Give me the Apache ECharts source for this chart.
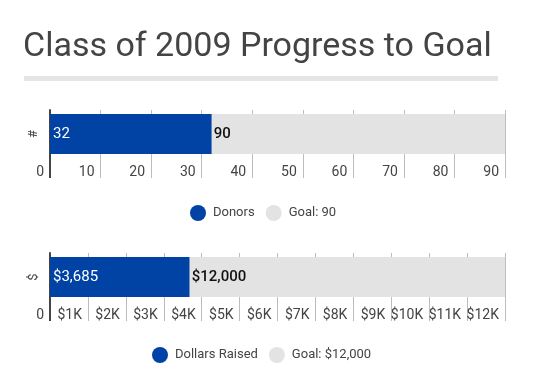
<!DOCTYPE html>
<html>
<head>
<meta charset="utf-8">
<script src="https://cdn.jsdelivr.net/npm/echarts@6/dist/echarts.min.js"></script>
<style>html,body{margin:0;padding:0;background:#fff}#c{width:541px;height:390px}</style>
</head>
<body>
<div id="c"></div>
<script>
var titleText = 'Class of 2009 Progress to Goal';
var donorCategory = ['#'];
var donorsRaised = [32];
var donorsGoal = [90];
var donorTicks = [0, 10, 20, 30, 40, 50, 60, 70, 80, 90];
var dollarCategory = ['$'];
var dollarsRaised = [3685];
var dollarsGoal = [12000];
var dollarTicks = ['0', '$1K', '$2K', '$3K', '$4K', '$5K', '$6K', '$7K', '$8K', '$9K', '$10K', '$11K', '$12K'];
var seriesNames = ['Donors', 'Dollars Raised'];

var BLUE = '#0043a4', GREY = '#e3e3e3', DARK = '#444', FONT = 'Roboto';
var fmtMoney = function (v) { return '$' + v.toLocaleString('en-US'); };
var goalName1 = 'Goal: ' + donorsGoal[0];
var goalName2 = 'Goal: ' + fmtMoney(dollarsGoal[0]);

function xAxisMain(gi, max, interval, labels) {
  return {
    type: 'value', gridIndex: gi, min: 0, max: max, interval: interval,
    axisLine: { show: false },
    axisTick: { show: true, length: 20, lineStyle: { color: '#bdbdbd', width: 1 } },
    splitLine: { show: true, lineStyle: { color: '#bdbdbd', width: 1 } },
    axisLabel: {
      show: true, align: 'right', padding: [0, 6, 0, 0], margin: 7, verticalAlign: 'top',
      color: DARK, fontSize: 14, fontFamily: FONT, showMinLabel: true, showMaxLabel: true,
      formatter: function (v) { return labels[Math.round(v / interval)]; }
    }
  };
}
function xAxisZero(gi, max) {
  return {
    type: 'value', gridIndex: gi, min: 0, max: max, position: 'bottom',
    axisLine: { show: false }, splitLine: { show: false }, axisLabel: { show: false },
    axisTick: { show: true, length: 20, customValues: [0], lineStyle: { color: DARK, width: 2 } }
  };
}
function yAxis(gi, cats) {
  return {
    type: 'category', gridIndex: gi, data: cats,
    axisLine: { show: true, lineStyle: { color: DARK, width: 2 } },
    axisTick: { show: false },
    axisLabel: { rotate: 90, margin: 10, color: DARK, fontSize: 13, fontFamily: FONT }
  };
}
function remainder(goal, got) { return goal.map(function (g, i) { return g - got[i]; }); }

var option = {
  animation: false,
  backgroundColor: '#fff',
  textStyle: { fontFamily: FONT },
  title: {
    text: titleText, left: 18, top: 25,
    textStyle: { fontFamily: FONT, fontSize: 34, fontWeight: 'normal', color: '#444' }
  },
  graphic: [{ type: 'rect', shape: { x: 24, y: 76, width: 474, height: 5 }, style: { fill: '#e5e5e5' } }],
  grid: [
    { left: 50, right: 36, top: 110, height: 48 },
    { left: 50, right: 36, top: 253, height: 48 }
  ],
  legend: [
    { data: [seriesNames[0], goalName1], left: 185, top: 200, icon: 'circle', itemWidth: 16, itemHeight: 16, itemGap: 11,
      textStyle: { color: DARK, fontSize: 13, fontFamily: FONT, padding: [0, 0, 0, 2] } },
    { data: [seriesNames[1], goalName2], left: 147, top: 342, icon: 'circle', itemWidth: 16, itemHeight: 16, itemGap: 11,
      textStyle: { color: DARK, fontSize: 13, fontFamily: FONT, padding: [0, 0, 0, 2] } }
  ],
  xAxis: [
    xAxisMain(0, donorsGoal[0], 10, donorTicks.map(String)),
    xAxisMain(1, dollarsGoal[0], 1000, dollarTicks),
    xAxisZero(0, donorsGoal[0]),
    xAxisZero(1, dollarsGoal[0])
  ],
  yAxis: [yAxis(0, donorCategory), yAxis(1, dollarCategory)],
  series: [
    { name: seriesNames[0], type: 'bar', xAxisIndex: 0, yAxisIndex: 0, stack: 'd', barWidth: 40,
      data: donorsRaised, itemStyle: { color: BLUE },
      label: { show: true, position: 'insideLeft', distance: 3, color: '#fff', fontSize: 15, fontFamily: FONT } },
    { name: goalName1, type: 'bar', xAxisIndex: 0, yAxisIndex: 0, stack: 'd', barWidth: 40,
      data: remainder(donorsGoal, donorsRaised), itemStyle: { color: GREY },
      label: { show: true, position: 'insideLeft', distance: 2, color: '#111', fontSize: 15, fontWeight: 500, fontFamily: FONT,
        formatter: function () { return String(donorsGoal[0]); } } },
    { name: seriesNames[1], type: 'bar', xAxisIndex: 1, yAxisIndex: 1, stack: 'm', barWidth: 40,
      data: dollarsRaised, itemStyle: { color: BLUE },
      label: { show: true, position: 'insideLeft', distance: 3, color: '#fff', fontSize: 15, fontFamily: FONT,
        formatter: function (p) { return fmtMoney(p.value); } } },
    { name: goalName2, type: 'bar', xAxisIndex: 1, yAxisIndex: 1, stack: 'm', barWidth: 40,
      data: remainder(dollarsGoal, dollarsRaised), itemStyle: { color: GREY },
      label: { show: true, position: 'insideLeft', distance: 2, color: '#111', fontSize: 15, fontWeight: 500, fontFamily: FONT,
        formatter: function () { return fmtMoney(dollarsGoal[0]); } } }
  ]
};
var chart = echarts.init(document.getElementById('c'), null, { renderer: 'canvas' });
chart.setOption(option);
</script>
</body>
</html>
